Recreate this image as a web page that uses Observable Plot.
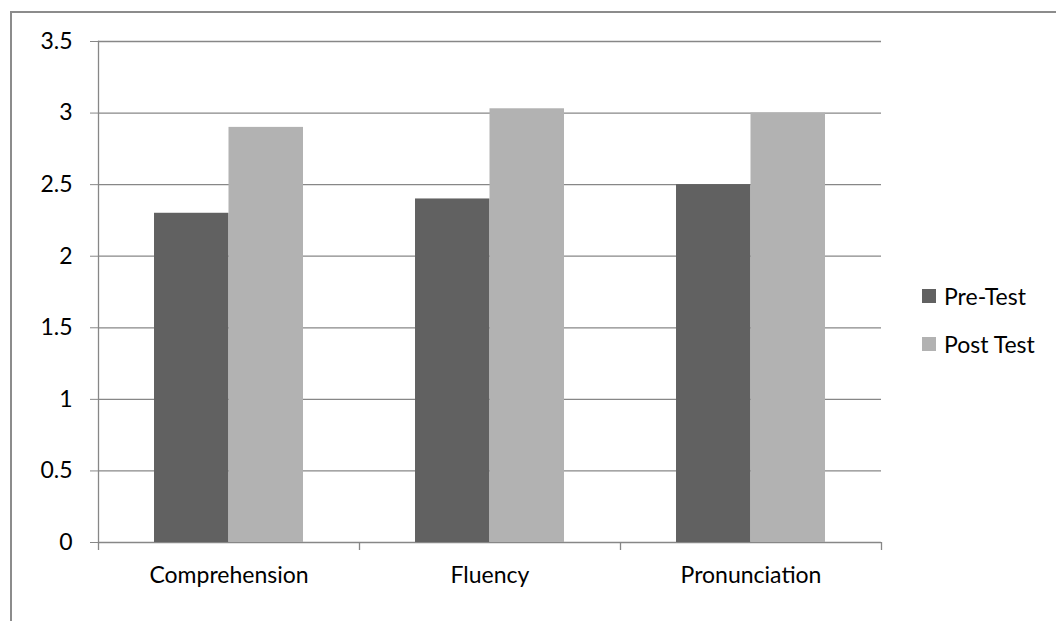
<!DOCTYPE html>
<html><head><meta charset="utf-8">
<script src="https://cdn.jsdelivr.net/npm/d3@7"></script>
<script src="https://cdn.jsdelivr.net/npm/@observablehq/plot@0.6"></script>
<style>
body{margin:0;background:#fff;}
#wrap{position:relative;width:1056px;height:621px;overflow:hidden;font-family:Lato, "Liberation Sans", sans-serif;color:#000;}
#border{position:absolute;left:10px;top:11px;width:1200px;height:800px;border-left:2px solid #8c8c8c;border-top:2px solid #8c8c8c;}
#chart{position:absolute;left:0;top:0;}
#legend{position:absolute;left:922px;top:0;}
.item{position:absolute;left:0;display:flex;align-items:center;white-space:nowrap;font-size:23px;}
.sw{width:14px;height:14px;margin-right:8px;}
</style></head><body>
<div id="wrap"><div id="border"></div><div id="chart"></div><div id="legend"></div></div>
<script>
const categories = ["Comprehension", "Fluency", "Pronunciation"];
const seriesNames = ["Pre-Test", "Post Test"];
const preTest = [2.3, 2.4, 2.5];
const postTest = [2.9, 3.03, 3.0];
const yTicks = [0, 0.5, 1, 1.5, 2, 2.5, 3, 3.5];
const seriesColors = ["#616161", "#b2b2b2"];

const W = 1056, H = 621;
const mL = 98, mR = 175, mT = 41, mB = 79;
const band = (W - mL - mR) / categories.length;
const gap = band * 0.2146;
const barW = (band - 2 * gap) / 2;

const preData = categories.map((c, i) => ({category: c, value: preTest[i]}));
const postData = categories.map((c, i) => ({category: c, value: postTest[i]}));
const gridColor = "#878787";

const chart = Plot.plot({
  width: W, height: H,
  marginLeft: mL, marginRight: mR, marginTop: mT, marginBottom: mB,
  style: {fontFamily: "Lato, 'Liberation Sans', sans-serif", fontSize: "23px", color: "#000", background: "transparent"},
  x: {type: "band", domain: categories, padding: 0, label: null},
  y: {domain: [0, 3.5], label: null},
  marks: [
    Plot.ruleY(yTicks, {stroke: gridColor, strokeWidth: 1.3}),
    Plot.barY(preData, {x: "category", y: "value", fill: seriesColors[0], insetLeft: gap, insetRight: gap + barW}),
    Plot.barY(postData, {x: "category", y: "value", fill: seriesColors[1], insetLeft: gap + barW, insetRight: gap}),
    Plot.frame({anchor: "left", stroke: gridColor, strokeWidth: 1.3}),
    Plot.ruleX(categories, {x: d => d, dx: -band / 2, y1: 0, y2: 0, insetBottom: -8, stroke: gridColor, strokeWidth: 1.3}),
    Plot.ruleX(categories.slice(-1), {x: d => d, dx: band / 2, y1: 0, y2: 0, insetBottom: -8, stroke: gridColor, strokeWidth: 1.3}),
    Plot.axisY({ticks: yTicks, tickSize: 8, tickPadding: 18, stroke: gridColor, tickFormat: d => String(d), fill: "#000"}),
    Plot.axisX({tickSize: 0, tickPadding: 24, fill: "#000"})
  ]
});
document.getElementById("chart").appendChild(chart);

const legend = document.getElementById("legend");
const legendCenters = [296, 344];
seriesNames.forEach((s, i) => {
  const it = document.createElement("div");
  it.className = "item";
  it.style.top = (legendCenters[i] - 15) + "px";
  it.style.height = "30px";
  const sw = document.createElement("div");
  sw.className = "sw";
  sw.style.background = seriesColors[i];
  const t = document.createElement("span");
  t.textContent = s;
  it.appendChild(sw); it.appendChild(t);
  legend.appendChild(it);
});
</script>
</body></html>
